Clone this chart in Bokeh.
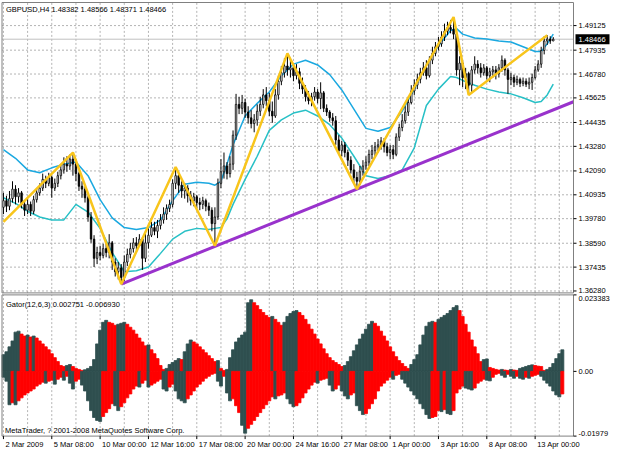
from bokeh.plotting import figure
from bokeh.models import Range1d, ColumnDataSource
from bokeh.core.properties import value
from bokeh.embed import file_html
from bokeh.resources import INLINE

# ---------------- texts ----------------
symbol_header = "GBPUSD,H4  1.48382 1.48566 1.48371 1.48466"
gator_header = "Gator(12,6,3) 0.002751 -0.006930"
copyright_text = "MetaTrader, ? 2001-2008 MetaQuotes Software Corp."

time_labels = ["2 Mar 2009", "5 Mar 08:00", "10 Mar 00:00", "12 Mar 16:00", "17 Mar 08:00",
               "20 Mar 00:00", "24 Mar 16:00", "27 Mar 08:00", "1 Apr 00:00", "3 Apr 16:00",
               "8 Apr 08:00", "13 Apr 00:00"]
label_bars = [0, 16, 32, 48, 64, 80, 96, 112, 128, 144, 160, 176]

price_ticks = [1.49125, 1.47935, 1.46780, 1.45625, 1.44435, 1.43280, 1.42090,
               1.40935, 1.39780, 1.38590, 1.37435, 1.36280]
bid_price = 1.48466
gator_top_value = 0.023383
gator_bottom_value = -0.01979
gator_top_text = "0.023383"
gator_zero_text = "0.00"
gator_bottom_text = "-0.01979"

# ---------------- H4 candles ----------------
opens = [1.4033, 1.4065, 1.4038, 1.4075, 1.4121, 1.4084, 1.4103, 1.4047, 1.4019, 1.4047,
         1.4014, 1.4070, 1.4103, 1.4126, 1.4168, 1.4149, 1.4177, 1.4126, 1.4149, 1.4186,
         1.4214, 1.4242, 1.4233, 1.4266, 1.4242, 1.4196, 1.4135, 1.4121, 1.4079, 1.3986,
         1.3879, 1.3786, 1.3814, 1.3800, 1.3833, 1.3814, 1.3861, 1.3768, 1.3721, 1.3740,
         1.3693, 1.3768, 1.3805, 1.3833, 1.3861, 1.3847, 1.3879, 1.3786, 1.3861, 1.3898,
         1.3935, 1.3917, 1.3945, 1.3972, 1.4000, 1.4028, 1.4047, 1.4149, 1.4186, 1.4140,
         1.4112, 1.4126, 1.4089, 1.4065, 1.4084, 1.4056, 1.4047, 1.4065, 1.4038, 1.4019,
         1.3954, 1.3986, 1.4149, 1.4205, 1.4233, 1.4196, 1.4242, 1.4382, 1.4531, 1.4512,
         1.4540, 1.4494, 1.4466, 1.4438, 1.4456, 1.4498, 1.4531, 1.4577, 1.4549, 1.4498,
         1.4475, 1.4577, 1.4643, 1.4684, 1.4717, 1.4698, 1.4708, 1.4670, 1.4689, 1.4633,
         1.4605, 1.4568, 1.4549, 1.4568, 1.4591, 1.4559, 1.4587, 1.4512, 1.4494, 1.4466,
         1.4452, 1.4359, 1.4307, 1.4335, 1.4298, 1.4261, 1.4214, 1.4177, 1.4159, 1.4205,
         1.4233, 1.4252, 1.4289, 1.4307, 1.4326, 1.4335, 1.4354, 1.4326, 1.4298, 1.4312,
         1.4289, 1.4373, 1.4419, 1.4452, 1.4494, 1.4540, 1.4596, 1.4624, 1.4652, 1.4684,
         1.4708, 1.4670, 1.4745, 1.4778, 1.4810, 1.4824, 1.4857, 1.4885, 1.4903, 1.4894,
         1.4871, 1.4698, 1.4731, 1.4661, 1.4680, 1.4624, 1.4698, 1.4726, 1.4708, 1.4684,
         1.4708, 1.4670, 1.4689, 1.4698, 1.4680, 1.4708, 1.4745, 1.4698, 1.4652, 1.4661,
         1.4638, 1.4652, 1.4633, 1.4643, 1.4629, 1.4638, 1.4661, 1.4698, 1.4726, 1.4792,
         1.4838, 1.4847, 1.48382]
closes = [1.4065, 1.4038, 1.4075, 1.4121, 1.4084, 1.4103, 1.4047, 1.4019, 1.4047, 1.4014,
          1.4070, 1.4103, 1.4126, 1.4168, 1.4149, 1.4177, 1.4126, 1.4149, 1.4186, 1.4214,
          1.4242, 1.4233, 1.4266, 1.4242, 1.4196, 1.4135, 1.4121, 1.4079, 1.3986, 1.3879,
          1.3786, 1.3814, 1.3800, 1.3833, 1.3814, 1.3861, 1.3768, 1.3721, 1.3740, 1.3693,
          1.3768, 1.3805, 1.3833, 1.3861, 1.3847, 1.3879, 1.3786, 1.3861, 1.3898, 1.3935,
          1.3917, 1.3945, 1.3972, 1.4000, 1.4028, 1.4047, 1.4149, 1.4186, 1.4140, 1.4112,
          1.4126, 1.4089, 1.4065, 1.4084, 1.4056, 1.4047, 1.4065, 1.4038, 1.4019, 1.3954,
          1.3986, 1.4149, 1.4205, 1.4233, 1.4196, 1.4242, 1.4382, 1.4531, 1.4512, 1.4540,
          1.4494, 1.4466, 1.4438, 1.4456, 1.4498, 1.4531, 1.4577, 1.4549, 1.4498, 1.4475,
          1.4577, 1.4643, 1.4684, 1.4717, 1.4698, 1.4708, 1.4670, 1.4689, 1.4633, 1.4605,
          1.4568, 1.4549, 1.4568, 1.4591, 1.4559, 1.4587, 1.4512, 1.4494, 1.4466, 1.4452,
          1.4359, 1.4307, 1.4335, 1.4298, 1.4261, 1.4214, 1.4177, 1.4159, 1.4205, 1.4233,
          1.4252, 1.4289, 1.4307, 1.4326, 1.4335, 1.4354, 1.4326, 1.4298, 1.4312, 1.4289,
          1.4373, 1.4419, 1.4452, 1.4494, 1.4540, 1.4596, 1.4624, 1.4652, 1.4684, 1.4708,
          1.4670, 1.4745, 1.4778, 1.4810, 1.4824, 1.4857, 1.4885, 1.4903, 1.4894, 1.4871,
          1.4698, 1.4731, 1.4661, 1.4680, 1.4624, 1.4698, 1.4726, 1.4708, 1.4684, 1.4708,
          1.4670, 1.4689, 1.4698, 1.4680, 1.4708, 1.4745, 1.4698, 1.4652, 1.4661, 1.4638,
          1.4652, 1.4633, 1.4643, 1.4629, 1.4638, 1.4661, 1.4698, 1.4726, 1.4792, 1.4838,
          1.4847, 1.4838, 1.48466]
highs = [1.4103, 1.4089, 1.4112, 1.4159, 1.4140, 1.4126, 1.4112, 1.4065, 1.4075, 1.4061,
         1.4089, 1.4121, 1.4149, 1.4196, 1.4186, 1.4200, 1.4186, 1.4172, 1.4205, 1.4242,
         1.4275, 1.4280, 1.4289, 1.4298, 1.4266, 1.4205, 1.4159, 1.4131, 1.4089, 1.4010,
         1.3898, 1.3842, 1.3847, 1.3856, 1.3870, 1.3903, 1.3870, 1.3786, 1.3768, 1.3758,
         1.3800, 1.3833, 1.3861, 1.3884, 1.3889, 1.3903, 1.3889, 1.3917, 1.3931, 1.3963,
         1.3963, 1.3972, 1.4000, 1.4033, 1.4047, 1.4070, 1.4168, 1.4228, 1.4196, 1.4159,
         1.4149, 1.4140, 1.4112, 1.4103, 1.4093, 1.4079, 1.4084, 1.4075, 1.4056, 1.4033,
         1.4033, 1.4172, 1.4266, 1.4298, 1.4252, 1.4280, 1.4405, 1.4582, 1.4568, 1.4577,
         1.4559, 1.4522, 1.4503, 1.4484, 1.4531, 1.4568, 1.4605, 1.4615, 1.4587, 1.4545,
         1.4605, 1.4670, 1.4717, 1.4754, 1.4778, 1.4745, 1.4731, 1.4726, 1.4708, 1.4661,
         1.4624, 1.4596, 1.4587, 1.4615, 1.4605, 1.4638, 1.4596, 1.4531, 1.4503, 1.4489,
         1.4475, 1.4382, 1.4354, 1.4349, 1.4312, 1.4280, 1.4242, 1.4205, 1.4233, 1.4261,
         1.4280, 1.4312, 1.4335, 1.4349, 1.4363, 1.4373, 1.4368, 1.4345, 1.4335, 1.4335,
         1.4391, 1.4438, 1.4484, 1.4522, 1.4568, 1.4624, 1.4652, 1.4680, 1.4708, 1.4736,
         1.4745, 1.4764, 1.4810, 1.4833, 1.4857, 1.4885, 1.4922, 1.4931, 1.4940, 1.4954,
         1.4885, 1.4764, 1.4745, 1.4708, 1.4689, 1.4717, 1.4764, 1.4745, 1.4731, 1.4726,
         1.4717, 1.4708, 1.4717, 1.4717, 1.4726, 1.4768, 1.4754, 1.4708, 1.4684, 1.4675,
         1.4670, 1.4661, 1.4661, 1.4657, 1.4661, 1.4680, 1.4717, 1.4745, 1.4810, 1.4861,
         1.4866, 1.4861, 1.48566]
lows = [1.4000, 1.4010, 1.4019, 1.4056, 1.4047, 1.4056, 1.4028, 1.3991, 1.4000, 1.3991,
        1.4000, 1.4056, 1.4089, 1.4112, 1.4126, 1.4135, 1.4079, 1.4112, 1.4131, 1.4168,
        1.4196, 1.4205, 1.4214, 1.4186, 1.4159, 1.4112, 1.4079, 1.4056, 1.3963, 1.3861,
        1.3744, 1.3758, 1.3777, 1.3786, 1.3791, 1.3786, 1.3730, 1.3698, 1.3684, 1.3661,
        1.3675, 1.3749, 1.3786, 1.3814, 1.3824, 1.3842, 1.3730, 1.3768, 1.3833, 1.3889,
        1.3898, 1.3884, 1.3926, 1.3954, 1.3972, 1.4010, 1.4033, 1.4121, 1.4103, 1.4079,
        1.4075, 1.4056, 1.4042, 1.4038, 1.4028, 1.4019, 1.4024, 1.4014, 1.3991, 1.3917,
        1.3847, 1.3972, 1.4126, 1.4172, 1.4168, 1.4177, 1.4214, 1.4359, 1.4484, 1.4484,
        1.4466, 1.4438, 1.4415, 1.4396, 1.4428, 1.4475, 1.4512, 1.4522, 1.4475, 1.4442,
        1.4466, 1.4554, 1.4624, 1.4661, 1.4670, 1.4661, 1.4643, 1.4652, 1.4605, 1.4582,
        1.4545, 1.4531, 1.4522, 1.4549, 1.4536, 1.4508, 1.4494, 1.4475, 1.4447, 1.4428,
        1.4335, 1.4289, 1.4280, 1.4275, 1.4233, 1.4196, 1.4149, 1.4121, 1.4140, 1.4186,
        1.4214, 1.4233, 1.4266, 1.4280, 1.4298, 1.4312, 1.4298, 1.4280, 1.4266, 1.4266,
        1.4280, 1.4354, 1.4401, 1.4438, 1.4475, 1.4531, 1.4577, 1.4605, 1.4633, 1.4670,
        1.4652, 1.4661, 1.4726, 1.4764, 1.4792, 1.4810, 1.4838, 1.4866, 1.4875, 1.4847,
        1.4670, 1.4624, 1.4615, 1.4605, 1.4577, 1.4591, 1.4680, 1.4680, 1.4661, 1.4670,
        1.4652, 1.4638, 1.4661, 1.4652, 1.4661, 1.4689, 1.4670, 1.4582, 1.4624, 1.4615,
        1.4624, 1.4615, 1.4619, 1.4615, 1.4605, 1.4601, 1.4652, 1.4689, 1.4708, 1.4773,
        1.4819, 1.4824, 1.48371]

# ---------------- Bollinger bands (read at sample bars) ----------------
band_bars = [0, 4, 8, 12, 16, 20, 24, 28, 32, 36, 40, 44, 48, 52, 56, 60, 64, 68, 70, 72,
             74, 76, 80, 84, 88, 92, 96, 100, 104, 108, 112, 116, 120, 124, 128, 132, 136,
             140, 144, 148, 150, 152, 156, 160, 164, 168, 172, 176, 178, 180, 182]
band_upper = [1.4312, 1.4270, 1.4214, 1.4200, 1.4224, 1.4242, 1.4252, 1.4186, 1.4070, 1.3982,
              1.3935, 1.3926, 1.3935, 1.3972, 1.4065, 1.4145, 1.4154, 1.4149, 1.4140, 1.4159,
              1.4242, 1.4335, 1.4475, 1.4536, 1.4591, 1.4670, 1.4726, 1.4745, 1.4722, 1.4675,
              1.4601, 1.4508, 1.4415, 1.4401, 1.4419, 1.4498, 1.4605, 1.4722, 1.4815, 1.4889,
              1.4898, 1.4871, 1.4852, 1.4847, 1.4838, 1.4833, 1.4810, 1.4787, 1.4787, 1.4824,
              1.4871]
band_lower = [1.4079, 1.4052, 1.4014, 1.3986, 1.3972, 1.3972, 1.4047, 1.4010, 1.3931, 1.3814,
              1.3721, 1.3726, 1.3744, 1.3810, 1.3879, 1.3917, 1.3931, 1.3926, 1.3931, 1.3935,
              1.3977, 1.4047, 1.4168, 1.4280, 1.4405, 1.4456, 1.4489, 1.4503, 1.4475, 1.4433,
              1.4368, 1.4280, 1.4186, 1.4172, 1.4186, 1.4214, 1.4321, 1.4526, 1.4605, 1.4666,
              1.4661, 1.4647, 1.4624, 1.4605, 1.4591, 1.4582, 1.4563, 1.4540, 1.4545, 1.4577,
              1.4629]

# ---------------- ZigZag & trend line ----------------
zigzag_bars = [0, 23, 39, 57, 70, 94, 117, 149, 154, 180]
zigzag_price = [1.3963, 1.4298, 1.3661, 1.4228, 1.3847, 1.4778, 1.4121, 1.4954, 1.4577, 1.4866]
trend_bars = [39, 117]
trend_price = [1.3661, 1.4121]

# ---------------- Gator oscillator ----------------
gator_upper = [0.0051, 0.0060, 0.0075, 0.0093, 0.0120, 0.0123, 0.0114, 0.0108, 0.0111, 0.0105,
               0.0108, 0.0102, 0.0093, 0.0084, 0.0075, 0.0066, 0.0054, 0.0042, 0.0030, 0.0018,
               0.0015, 0.0018, 0.0021, 0.0015, 0.0009, 0.0006, 0.0003, 0.0005, 0.0009, 0.0015,
               0.0036, 0.0084, 0.0126, 0.0150, 0.0156, 0.0150, 0.0147, 0.0141, 0.0144, 0.0147,
               0.0150, 0.0144, 0.0135, 0.0126, 0.0114, 0.0102, 0.0090, 0.0078, 0.0081, 0.0066,
               0.0054, 0.0039, 0.0018, 0.0006, 0.0009, 0.0021, 0.0027, 0.0033, 0.0039, 0.0036,
               0.0060, 0.0084, 0.0096, 0.0090, 0.0084, 0.0075, 0.0066, 0.0057, 0.0048, 0.0039,
               0.0030, 0.0033, 0.0009, 0.0003, 0.0006, 0.0042, 0.0066, 0.0090, 0.0102, 0.0111,
               0.0120, 0.0210, 0.0219, 0.0210, 0.0201, 0.0189, 0.0180, 0.0171, 0.0165, 0.0168,
               0.0159, 0.0150, 0.0141, 0.0150, 0.0168, 0.0177, 0.0183, 0.0186, 0.0180, 0.0171,
               0.0159, 0.0144, 0.0129, 0.0114, 0.0099, 0.0084, 0.0069, 0.0054, 0.0042, 0.0033,
               0.0027, 0.0021, 0.0015, 0.0018, 0.0030, 0.0045, 0.0063, 0.0081, 0.0099, 0.0114,
               0.0129, 0.0144, 0.0153, 0.0147, 0.0138, 0.0123, 0.0108, 0.0093, 0.0075, 0.0060,
               0.0045, 0.0033, 0.0024, 0.0015, 0.0009, 0.0021, 0.0036, 0.0051, 0.0081, 0.0111,
               0.0138, 0.0150, 0.0153, 0.0150, 0.0159, 0.0165, 0.0171, 0.0177, 0.0186, 0.0195,
               0.0201, 0.0186, 0.0168, 0.0144, 0.0120, 0.0096, 0.0075, 0.0054, 0.0030, 0.0036,
               0.0038, 0.0012, 0.0009, 0.0006, 0.0004, 0.0006, 0.0004, 0.0003, 0.0006, 0.0004,
               0.0003, 0.0009, 0.0012, 0.0015, 0.0018, 0.0020, 0.0018, 0.0016, 0.0015, 0.0003,
               0.0006, 0.0012, 0.0024, 0.0039, 0.0054, 0.0066]
gator_lower = [-0.0018, -0.0030, -0.0102, -0.0096, -0.0102, -0.0090, -0.0081, -0.0072, -0.0066, -0.0060,
               -0.0054, -0.0045, -0.0039, -0.0033, -0.0036, -0.0030, -0.0027, -0.0039, -0.0024, -0.0018,
               -0.0027, -0.0015, -0.0036, -0.0054, -0.0030, -0.0024, -0.0042, -0.0060, -0.0090, -0.0120,
               -0.0141, -0.0150, -0.0153, -0.0138, -0.0126, -0.0114, -0.0099, -0.0105, -0.0120, -0.0108,
               -0.0096, -0.0081, -0.0069, -0.0054, -0.0045, -0.0048, -0.0036, -0.0027, -0.0048, -0.0042,
               -0.0036, -0.0030, -0.0024, -0.0054, -0.0060, -0.0048, -0.0039, -0.0060, -0.0084, -0.0090,
               -0.0096, -0.0084, -0.0072, -0.0060, -0.0048, -0.0039, -0.0030, -0.0021, -0.0015, -0.0009,
               -0.0006, -0.0030, -0.0045, -0.0015, -0.0066, -0.0090, -0.0084, -0.0105, -0.0126, -0.0165,
               -0.0189, -0.0174, -0.0162, -0.0150, -0.0138, -0.0126, -0.0114, -0.0102, -0.0090, -0.0078,
               -0.0084, -0.0075, -0.0072, -0.0066, -0.0084, -0.0099, -0.0108, -0.0105, -0.0096, -0.0081,
               -0.0066, -0.0054, -0.0042, -0.0033, -0.0036, -0.0027, -0.0024, -0.0021, -0.0042, -0.0060,
               -0.0054, -0.0042, -0.0060, -0.0075, -0.0084, -0.0072, -0.0066, -0.0105, -0.0120, -0.0132,
               -0.0129, -0.0114, -0.0099, -0.0084, -0.0060, -0.0045, -0.0036, -0.0027, -0.0018, -0.0024,
               -0.0012, -0.0009, -0.0024, -0.0036, -0.0048, -0.0060, -0.0072, -0.0084, -0.0099, -0.0114,
               -0.0132, -0.0144, -0.0141, -0.0138, -0.0120, -0.0123, -0.0117, -0.0129, -0.0132, -0.0120,
               -0.0066, -0.0054, -0.0045, -0.0051, -0.0054, -0.0057, -0.0051, -0.0036, -0.0030, -0.0024,
               -0.0027, -0.0029, -0.0018, -0.0009, -0.0006, -0.0012, -0.0018, -0.0009, -0.0015, -0.0021,
               -0.0015, -0.0021, -0.0024, -0.0018, -0.0021, -0.0015, -0.0012, -0.0009, -0.0015, -0.0027,
               -0.0036, -0.0045, -0.0060, -0.0072, -0.0078, -0.0069]
# colour runs per bar: D = rising (dark), R = falling (red)
gator_upper_runs = [(6, "D"), (2, "R"), (1, "D"), (1, "R"), (1, "D"), (10, "R"), (2, "D"), (4, "R"),
                    (8, "D"), (3, "R"), (3, "D"), (7, "R"), (1, "D"), (5, "R"), (5, "D"), (1, "R"),
                    (3, "D"), (8, "R"), (1, "D"), (2, "R"), (9, "D"), (6, "R"), (1, "D"), (3, "R"),
                    (5, "D"), (15, "R"), (10, "D"), (12, "R"), (8, "D"), (1, "R"), (7, "D"), (8, "R"),
                    (2, "D"), (4, "R"), (1, "D"), (2, "R"), (1, "D"), (2, "R"), (5, "D"), (4, "R"),
                    (6, "D")]
gator_lower_runs = [(3, "D"), (1, "R"), (1, "D"), (9, "R"), (1, "D"), (2, "R"), (1, "D"), (2, "R"),
                    (1, "D"), (1, "R"), (2, "D"), (2, "R"), (7, "D"), (4, "R"), (2, "D"), (6, "R"),
                    (1, "D"), (2, "R"), (1, "D"), (4, "R"), (2, "D"), (2, "R"), (4, "D"), (10, "R"),
                    (2, "D"), (1, "R"), (2, "D"), (3, "R"), (2, "D"), (9, "R"), (1, "D"), (3, "R"),
                    (3, "D"), (7, "R"), (1, "D"), (3, "R"), (2, "D"), (2, "R"), (3, "D"), (2, "R"),
                    (3, "D"), (9, "R"), (1, "D"), (2, "R"), (10, "D"), (3, "R"), (1, "D"), (1, "R"),
                    (2, "D"), (4, "R"), (3, "D"), (4, "R"), (2, "D"), (3, "R"), (2, "D"), (1, "R"),
                    (2, "D"), (1, "R"), (2, "D"), (1, "R"), (1, "D"), (3, "R"), (7, "D"), (1, "R")]

# ---------------- styling / layout (pixels) ----------------
FONT = "Liberation Sans"
FS = "7.5px"
GRID = "#B4B4B4"
BORDER = "#808080"
DARK = "#2F4F4F"
RED = "#FF0000"
W, H = 611, 452
CH_L, CH_R = 1.5, 573.0          # chart left edge / right axis line
BAR0_X, BAR_W = 2.94, 3.021       # centre of bar 0, spacing between bars
TOP_T, TOP_B = 2.0, 292.4         # price panel top/bottom
GAT_T, GAT_B = 294.4, 435.6       # gator panel top/bottom
P1, P0 = 1.50242, 1.36187         # prices at top/bottom edge of the price panel
KP = (TOP_B - TOP_T) / (P1 - P0)
KG = (GAT_B - GAT_T) / (gator_top_value - gator_bottom_value)


def xb(px):
    return (px - BAR0_X) / BAR_W


def yp(px):
    return P1 - (px - TOP_T) / KP


def yg(px):
    return gator_top_value - (px - GAT_T) / KG


XL, XR = xb(CH_L), xb(CH_R)
G1, G0 = gator_top_value, gator_bottom_value
grid_bars = list(range(0, 189, 8))


def expand(runs):
    out = []
    for n, c in runs:
        out += [DARK if c == "D" else RED] * n
    return out


n_bars = len(closes)
bars = list(range(n_bars))
candles = ColumnDataSource(dict(
    x=bars, high=highs, low=lows,
    top=[max(o, c) for o, c in zip(opens, closes)],
    bottom=[min(o, c) for o, c in zip(opens, closes)],
    fill=["white" if c >= o else "black" for o, c in zip(opens, closes)]))
n_g = len(gator_upper)
gator = ColumnDataSource(dict(x=list(range(n_g)), up=gator_upper, dn=gator_lower,
                              ucol=expand(gator_upper_runs), dcol=expand(gator_lower_runs)))

p = figure(width=W, height=H, x_range=Range1d(xb(0), xb(W)), y_range=Range1d(yp(H), yp(0)),
           output_backend="svg", toolbar_location=None, x_axis_location=None,
           y_axis_location=None, min_border=0, outline_line_color=None,
           background_fill_color="white", border_fill_color="white")
p.extra_y_ranges = {"g": Range1d(yg(H), yg(0))}
p.xgrid.visible = False
p.ygrid.visible = False

txt = dict(text_font=value(FONT), text_font_size=value(FS), text_color="black")

# ----- price panel -----
p.segment(x0=XL, x1=XR, y0=price_ticks, y1=price_ticks, line_color=GRID, line_dash="2 2")
p.segment(x0=grid_bars, x1=grid_bars, y0=P0, y1=P1, line_color=GRID, line_dash="2 2")
p.segment(x0=[XL], x1=[XR], y0=[bid_price], y1=[bid_price], line_color="#C0C0C0", line_width=1)

p.line(band_bars, band_upper, line_color="#1AA8E0", line_width=1.5)
p.line(band_bars, band_lower, line_color="#27C0C6", line_width=1.5)

p.segment(x0="x", y0="low", x1="x", y1="high", source=candles, line_color="black", line_width=1)
p.vbar(x="x", width=0.5, top="top", bottom="bottom", source=candles,
       fill_color="fill", line_color="black", line_width=0.8)

slope = (trend_price[1] - trend_price[0]) / (trend_bars[1] - trend_bars[0])
p.line([trend_bars[0], XR], [trend_price[0], trend_price[0] + slope * (XR - trend_bars[0])],
       line_color="#9932CC", line_width=3)
p.line(zigzag_bars, zigzag_price, line_color="#F8C51C", line_width=2.5)

p.quad(left=[XL], right=[XR], top=[P1], bottom=[P0], fill_color=None, line_color=BORDER, line_width=1)

# right price axis: ticks, labels, bid box
p.segment(x0=XR, x1=xb(CH_R + 3), y0=price_ticks, y1=price_ticks, line_color="black")
p.text(x=xb(CH_R + 5), y=price_ticks, text=[f"{t:.5f}" for t in price_ticks],
       text_baseline="middle", text_align="left", **txt)
p.quad(left=[xb(CH_R + 2)], right=[xb(CH_R + 36)], top=[bid_price + 5 / KP],
       bottom=[bid_price - 5 / KP], fill_color="black", line_color=None)
p.text(x=[xb(CH_R + 5)], y=[bid_price], text=[f"{bid_price:.5f}"], text_baseline="middle",
       text_align="left", text_font=value(FONT), text_font_size=value(FS), text_color="white")
p.text(x=[xb(CH_L + 4)], y=[yp(TOP_T + 2)], text=[symbol_header], text_baseline="top",
       text_align="left", **txt)

# ----- gator panel -----
p.segment(x0=grid_bars, x1=grid_bars, y0=G0, y1=G1, line_color=GRID, line_dash="2 2",
          y_range_name="g")
p.vbar(x="x", width=1.0, top="up", bottom=0, source=gator, fill_color="ucol",
       line_color="ucol", line_width=0.8, y_range_name="g")
p.vbar(x="x", width=1.0, top=0, bottom="dn", source=gator, fill_color="dcol",
       line_color="dcol", line_width=0.8, y_range_name="g")
p.quad(left=[XL], right=[XR], top=[G1], bottom=[G0], fill_color=None, line_color=BORDER,
       line_width=1, y_range_name="g")

p.segment(x0=XR, x1=xb(CH_R + 3), y0=[G1, 0.0, G0], y1=[G1, 0.0, G0], line_color="black",
          y_range_name="g")
p.text(x=[xb(CH_R + 5)], y=[yg(GAT_T + 1)], text=[gator_top_text], text_baseline="top",
       text_align="left", y_range_name="g", **txt)
p.text(x=[xb(CH_R + 5)], y=[0.0], text=[gator_zero_text], text_baseline="middle",
       text_align="left", y_range_name="g", **txt)
p.text(x=[xb(CH_R + 5)], y=[G0], text=[gator_bottom_text], text_baseline="bottom",
       text_align="left", y_range_name="g", **txt)
p.text(x=[xb(CH_L + 4)], y=[yg(GAT_T + 5)], text=[gator_header], text_baseline="top",
       text_align="left", y_range_name="g", **txt)
p.text(x=[xb(CH_L + 3)], y=[yg(GAT_B - 1.5)], text=[copyright_text], text_baseline="bottom",
       text_align="left", y_range_name="g", **txt)

# time axis below the gator panel
p.segment(x0=label_bars, x1=label_bars, y0=G0, y1=yg(GAT_B + 3), line_color="black",
          y_range_name="g")
p.text(x=[b + 2 / BAR_W for b in label_bars], y=yg(GAT_B + 4), text=time_labels,
       text_baseline="top", text_align="left", y_range_name="g", **txt)

open("out.html", "w").write(file_html(p, INLINE, "GBPUSD H4"))
